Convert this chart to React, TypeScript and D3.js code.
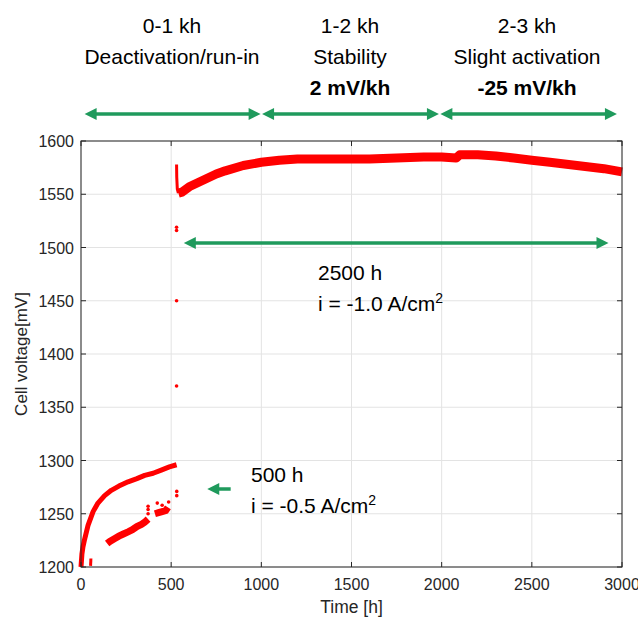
import React, { useEffect, useRef } from 'react'
import * as d3 from 'd3'

// band: [time h, voltage mV]
const lowCurrentRun = [
  [0, 1200], [5, 1212], [11, 1219], [20, 1226], [39, 1239], [67, 1252], [94, 1260],
  [131, 1267], [168, 1272], [210, 1276], [261, 1280], [310, 1283], [353, 1286],
  [400, 1288], [445, 1291], [490, 1294], [530, 1296],
]
const lowCurrentNoisy = [
  [145, 1222], [160, 1224], [190, 1227], [210, 1229], [235, 1231], [261, 1233],
  [285, 1235], [310, 1238], [335, 1240], [353, 1242], [372, 1245],
]
const lowCurrentNoisy2 = [[410, 1250], [430, 1251], [450, 1252], [470, 1253], [482, 1256]]
const startBlip = [[53, 1201], [55, 1208]]
const highCurrentSpike = [[530, 1578], [531, 1566], [534, 1555], [540, 1551]]
const highCurrentRun = [
  [540, 1551], [560, 1552], [600, 1557], [650, 1561], [700, 1565], [750, 1569],
  [800, 1572], [900, 1577], [1000, 1580], [1100, 1582], [1200, 1583], [1400, 1583],
  [1600, 1583], [1750, 1584], [1900, 1585], [2000, 1585], [2080, 1584], [2100, 1587],
  [2200, 1587], [2300, 1586], [2400, 1584], [2500, 1582], [2600, 1580], [2750, 1577],
  [2900, 1574], [3000, 1571],
]
const outliers = [
  [531, 1267], [531, 1271], [530, 1370], [530, 1450], [530, 1516], [530, 1519],
  [372, 1250], [372, 1254], [372, 1257], [423, 1260], [486, 1261], [450, 1258],
]

const xTicks = [0, 500, 1000, 1500, 2000, 2500, 3000]
const yTicks = [1200, 1250, 1300, 1350, 1400, 1450, 1500, 1550, 1600]

const phaseLabels = [
  { x: 172, lines: ['0-1 kh', 'Deactivation/run-in'], bold: '' },
  { x: 350, lines: ['1-2 kh', 'Stability'], bold: '2 mV/kh' },
  { x: 527, lines: ['2-3 kh', 'Slight activation'], bold: '-25 mV/kh' },
]

export default function App() {
  const ref = useRef<SVGSVGElement>(null)

  useEffect(() => {
    const svg = d3.select(ref.current)
    svg.selectAll('*').remove()
    const width = 638
    const height = 619
    const m = { left: 81, right: 16, top: 141, bottom: 52 }
    const x = d3.scaleLinear().domain([0, 3000]).range([m.left, width - m.right])
    const y = d3.scaleLinear().domain([1200, 1600]).range([height - m.bottom, m.top])
    const font = 'Liberation Sans, Arial, sans-serif'
    const axisColor = '#262626'
    const green = '#1f9a5c'

    // grid
    const grid = svg.append('g').attr('stroke', '#e3e3e3').attr('stroke-width', 1)
    xTicks.forEach((t) => grid.append('line').attr('x1', x(t)).attr('x2', x(t)).attr('y1', y(1200)).attr('y2', y(1600)))
    yTicks.forEach((t) => grid.append('line').attr('x1', x(0)).attr('x2', x(3000)).attr('y1', y(t)).attr('y2', y(t)))

    // data
    const line = d3.line<number[]>().x((d) => x(d[0])).y((d) => y(d[1]))
    const data = svg.append('g').attr('fill', 'none').attr('stroke', '#ff0000')
    data.append('path').attr('d', line(lowCurrentRun)).attr('stroke-width', 5).attr('stroke-linejoin', 'round')
    data.append('path').attr('d', line(lowCurrentNoisy)).attr('stroke-width', 7)
    data.append('path').attr('d', line(lowCurrentNoisy2)).attr('stroke-width', 7)
    data.append('path').attr('d', line(startBlip)).attr('stroke-width', 3)
    data.append('path').attr('d', line(highCurrentSpike)).attr('stroke-width', 3)
    data.append('path').attr('d', line(highCurrentRun)).attr('stroke-width', 9).attr('stroke-linejoin', 'round')
    svg.append('g').attr('fill', '#ff0000')
      .selectAll('circle').data(outliers).join('circle')
      .attr('cx', (d) => x(d[0])).attr('cy', (d) => y(d[1])).attr('r', 1.8)

    // axes box
    const ax = svg.append('g').attr('stroke', axisColor).attr('stroke-width', 1)
    ax.append('rect').attr('x', x(0)).attr('y', y(1600)).attr('width', x(3000) - x(0))
      .attr('height', y(1200) - y(1600)).attr('fill', 'none')
    xTicks.forEach((t) => {
      ax.append('line').attr('x1', x(t)).attr('x2', x(t)).attr('y1', y(1200)).attr('y2', y(1200) - 5)
      ax.append('line').attr('x1', x(t)).attr('x2', x(t)).attr('y1', y(1600)).attr('y2', y(1600) + 5)
    })
    yTicks.forEach((t) => {
      ax.append('line').attr('x1', x(0)).attr('x2', x(0) + 5).attr('y1', y(t)).attr('y2', y(t))
      ax.append('line').attr('x1', x(3000)).attr('x2', x(3000) - 5).attr('y1', y(t)).attr('y2', y(t))
    })
    const labels = svg.append('g').attr('font-family', font).attr('font-size', 16).attr('fill', axisColor)
    xTicks.forEach((t) => labels.append('text').attr('x', x(t)).attr('y', y(1200) + 23).attr('text-anchor', 'middle').text(t))
    yTicks.forEach((t) => labels.append('text').attr('x', x(0) - 7).attr('y', y(t) + 6).attr('text-anchor', 'end').text(t))
    labels.append('text').attr('x', (x(0) + x(3000)) / 2).attr('y', 613).attr('text-anchor', 'middle')
      .attr('font-size', 17.5).text('Time [h]')
    labels.append('text').attr('transform', `translate(27,${(y(1200) + y(1600)) / 2}) rotate(-90)`)
      .attr('font-size', 17).attr('text-anchor', 'middle').text('Cell voltage[mV]')

    // annotations
    const arrow = (x1: number, x2: number, yy: number, both: boolean) => {
      const g = svg.append('g').attr('fill', green).attr('stroke', green)
      const head = 12
      const hw = 6
      g.append('line').attr('x1', x1 + head - 2).attr('x2', both ? x2 - head + 2 : x2)
        .attr('y1', yy).attr('y2', yy).attr('stroke-width', 3.5)
      g.append('path').attr('stroke', 'none')
        .attr('d', `M${x1},${yy}L${x1 + head},${yy - hw}L${x1 + head},${yy + hw}Z`)
      if (both) {
        g.append('path').attr('stroke', 'none')
          .attr('d', `M${x2},${yy}L${x2 - head},${yy - hw}L${x2 - head},${yy + hw}Z`)
      }
    }
    arrow(x(20), x(996), 114, true)
    arrow(x(1004), x(1985), 114, true)
    arrow(x(1993), x(2972), 114, true)
    arrow(x(570), x(2925), 243, true)
    arrow(x(700), x(830), 489, false)

    const ann = svg.append('g').attr('font-family', font).attr('font-size', 21).attr('fill', '#000')
    phaseLabels.forEach((p) => {
      ann.append('text').attr('x', p.x).attr('y', 33).attr('text-anchor', 'middle').text(p.lines[0])
      ann.append('text').attr('x', p.x).attr('y', 64).attr('text-anchor', 'middle').text(p.lines[1])
      if (p.bold) {
        ann.append('text').attr('x', p.x).attr('y', 95).attr('text-anchor', 'middle')
          .attr('font-weight', 'bold').text(p.bold)
      }
    })
    const block = (xx: number, yy: number, h: string, cur: string) => {
      ann.append('text').attr('x', xx).attr('y', yy).text(h)
      const t = ann.append('text').attr('x', xx).attr('y', yy + 31)
      t.append('tspan').text(`i = ${cur} A/cm`)
      t.append('tspan').attr('font-size', 14).attr('dy', -8).text('2')
    }
    block(318, 280, '2500 h', '-1.0')
    block(251, 482, '500 h', '-0.5')
  }, [])

  return (
    <svg ref={ref} width={638} height={619}
      style={{ position: 'absolute', left: 0, top: 0, background: '#fff' }} />
  )
}
